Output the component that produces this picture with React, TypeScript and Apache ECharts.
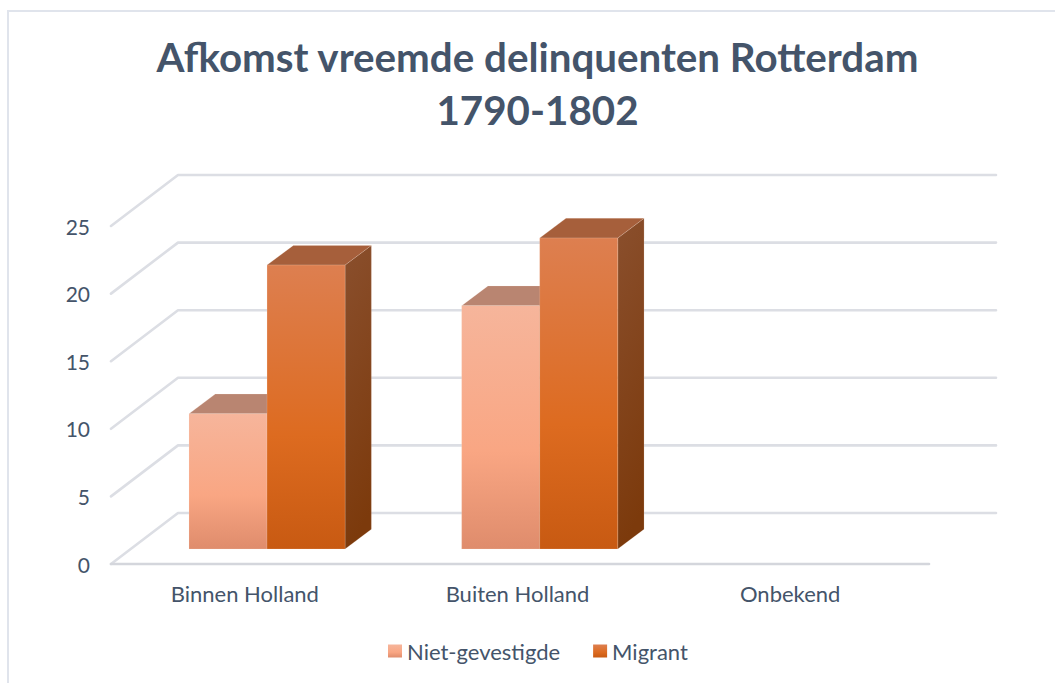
import React, { useEffect, useRef } from "react";
import * as echarts from "echarts";

const categories = ["Binnen Holland", "Buiten Holland", "Onbekend"];
const nietGevestigde = [10, 18, 0];
const migrant = [21, 23, 0];
const FONT = "Lato, 'Open Sans', sans-serif";
const TEXT = "#44546a";
const GRID = "#dcdee4";
const WALL_DX = 67;
const WALL_DY = -51;
const BAR_DX = 19.7;
const BAR_DY = -15;
const DEPTH_DX = 26.3;
const DEPTH_DY = -19.7;
const BAR_W = 0.2862;

const grad = (stops: [number, string][], x2 = 0) => ({
  type: "linear", x: 0, y: 0, x2, y2: 1,
  colorStops: stops.map(([offset, color]) => ({ offset, color })),
});

const nietFace = grad([[0, "#f6b59b"], [0.6, "#f9a683"], [1, "#df8c6c"]]);
const nietTop = "#b98571";
const nietSide = grad([[0, "#9a6650"], [1, "#7f4c38"]]);
const migFace = grad([[0, "#dd7f50"], [0.6, "#dd6b20"], [1, "#c85a12"]]);
const migTop = "#a65f3b";
const migSide = grad([[0, "#8a4f2d"], [1, "#7c3a0c"]], 0.15);

function barRenderer(slot: number, face: any, top: string, side: any) {
  return (_params: any, api: any) => {
    const value = api.value(1);
    if (!value) return null;
    const base = api.coord([api.value(0), 0]);
    const head = api.coord([api.value(0), value]);
    const w = api.size([1, 0])[0] * BAR_W;
    const x0 = base[0] + BAR_DX + (slot - 1) * w;
    const x1 = x0 + w;
    const yb = base[1] + BAR_DY;
    const yt = head[1] + BAR_DY;
    const edge = "rgba(255,235,225,0.16)";
    return {
      type: "group",
      children: [
        {
          type: "polygon",
          shape: { points: [[x1, yb], [x1 + DEPTH_DX, yb + DEPTH_DY], [x1 + DEPTH_DX, yt + DEPTH_DY], [x1, yt]] },
          style: { fill: side, stroke: edge, lineWidth: 1 },
        },
        {
          type: "polygon",
          shape: { points: [[x0, yt], [x1, yt], [x1 + DEPTH_DX, yt + DEPTH_DY], [x0 + DEPTH_DX, yt + DEPTH_DY]] },
          style: { fill: top, stroke: edge, lineWidth: 1 },
        },
        {
          type: "rect",
          shape: { x: x0, y: yt, width: w, height: yb - yt },
          style: { fill: face, stroke: edge, lineWidth: 1 },
        },
      ],
    };
  };
}

function wallRenderer(params: any, api: any) {
  const v = api.value(0);
  const y = api.coord([0, v])[1];
  const left = params.coordSys.x;
  const right = left + params.coordSys.width;
  const children: any[] = [
    {
      type: "polyline",
      shape: { points: [[left, y], [left + WALL_DX, y + WALL_DY], [right + WALL_DX, y + WALL_DY]] },
      style: { stroke: GRID, lineWidth: 2.6, fill: null, lineCap: "round", lineJoin: "round" },
    },
  ];
  if (v === 0) {
    children.push({
      type: "line",
      shape: { x1: left, y1: y, x2: right, y2: y },
      style: { stroke: "#d4d6dc", lineWidth: 2.6, lineCap: "round" },
    });
  }
  return { type: "group", children };
}

const valueTicks = [0, 5, 10, 15, 20, 25];

export default function App() {
  const ref = useRef<HTMLDivElement>(null);
  useEffect(() => {
    document.body.style.margin = "0";
    const chart = echarts.init(ref.current!, undefined, { renderer: "svg" });
    chart.setOption({
      animation: false,
      backgroundColor: "#ffffff",
      title: {
        text: "Afkomst vreemde delinquenten Rotterdam\n1790-1802",
        left: 532.5,
        top: 25,
        textAlign: "center",
        textStyle: { color: TEXT, fontFamily: FONT, fontWeight: 700, fontSize: 40.3, lineHeight: 53 },
      },
      legend: {
        data: ["Niet-gevestigde", "Migrant"],
        left: 388,
        top: 640,
        padding: 0,
        itemWidth: 14,
        itemHeight: 13,
        itemGap: 33,
        icon: "rect",
        textStyle: { color: TEXT, fontFamily: FONT, fontSize: 22, padding: [0, 0, 5, 0] },
      },
      grid: { left: 111, right: 126, top: 226, bottom: 119 },
      xAxis: {
        type: "category",
        data: categories,
        axisLine: { show: false },
        axisTick: { show: false },
        axisLabel: { color: TEXT, fontFamily: FONT, fontSize: 22, margin: 18, padding: [0, 5, 0, 0] },
      },
      yAxis: {
        type: "value",
        min: 0,
        max: 25,
        interval: 5,
        axisLine: { show: false },
        axisTick: { show: false },
        splitLine: { show: false },
        axisLabel: { color: TEXT, fontFamily: FONT, fontSize: 21, margin: 21 },
      },
      graphic: [
        {
          type: "polyline",
          shape: { points: [[8, 683], [8, 11], [1055, 11]] },
          style: { stroke: "#e0e4ec", lineWidth: 2, fill: null },
          silent: true,
        },
      ],
      series: [
        {
          type: "custom",
          name: "wall",
          data: valueTicks.map((v) => [v]),
          encode: { y: 0 },
          renderItem: wallRenderer,
          clip: false,
          silent: true,
        },
        {
          type: "custom",
          name: "Niet-gevestigde",
          data: nietGevestigde.map((v, i) => [i, v]),
          encode: { x: 0, y: 1 },
          renderItem: barRenderer(0, nietFace, nietTop, nietSide),
          itemStyle: { color: nietFace },
          clip: false,
        },
        {
          type: "custom",
          name: "Migrant",
          data: migrant.map((v, i) => [i, v]),
          encode: { x: 0, y: 1 },
          renderItem: barRenderer(1, migFace, migTop, migSide),
          itemStyle: { color: migFace },
          clip: false,
        },
      ],
    });
    return () => chart.dispose();
  }, []);
  return <div ref={ref} style={{ position: "absolute", left: 0, top: 0, width: 1055, height: 683 }} />;
}
